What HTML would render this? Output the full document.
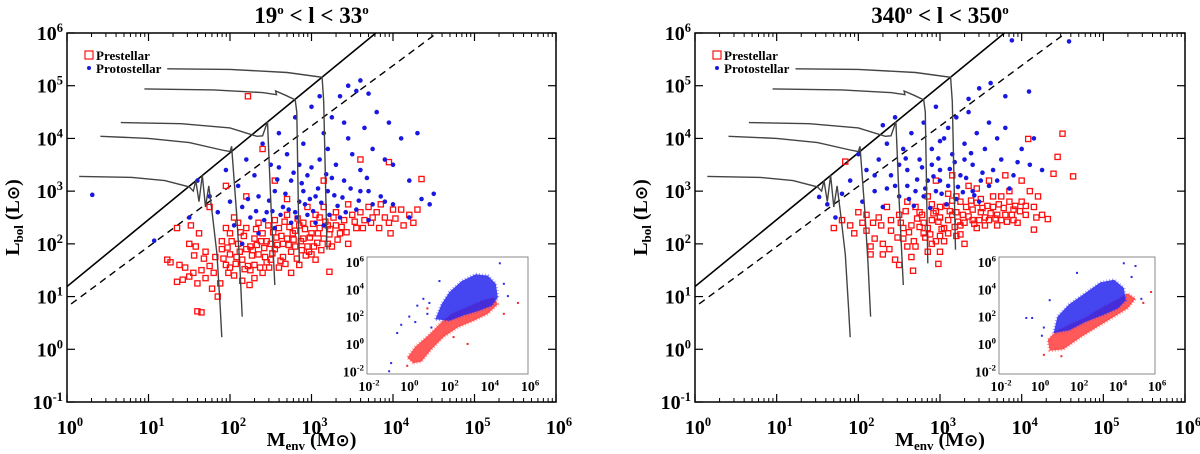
<!DOCTYPE html>
<html><head><meta charset="utf-8"><style>
html,body{margin:0;padding:0;background:#fff;}
svg{display:block;font-family:"Liberation Serif",serif;}
</style></head><body>
<svg id="chart" width="1200" height="454" viewBox="0 0 1200 454" xmlns="http://www.w3.org/2000/svg"></svg>
<script>
// ---- data (log10 Menv, log10 Lbol) ----
const xTickExps=[0,1,2,3,4,5,6];
const yTickExps=[-1,0,1,2,3,4,5,6];
const insetXTickExps=[-2,0,2,4,6];
const insetYTickExps=[-2,0,2,4,6];
const solidLine=[[0,1.19],[3.79,6]];
const dashedLine=[[0.05,0.86],[4.54,6]];
const track1=[[0.15,3.28],[0.8,3.26],[1.2,3.2],[1.5,3.08],[1.55,3.0],[1.58,3.2],[1.62,2.8],[1.66,3.3],[1.7,2.7],[1.74,3.1],[1.78,2.6],[1.84,1.8],[1.88,0.8],[1.9,0.23]];
const track2=[[0.41,4.04],[1.0,4.0],[1.5,3.92],[1.9,3.78],[2.0,3.75],[2.02,3.85],[2.08,2.6],[2.12,1.6],[2.15,0.62]];
const track3=[[0.66,4.3],[1.4,4.28],[2.0,4.2],[2.33,4.04],[2.4,4.05],[2.46,4.32],[2.5,2.8],[2.55,1.22]];
const track4=[[0.95,4.94],[1.8,4.92],[2.4,4.87],[2.57,4.83],[2.56,4.9],[2.68,4.82],[2.8,4.73],[2.82,4.5],[2.85,1.63]];
const track5=[[1.23,5.32],[2.0,5.31],[2.7,5.25],[3.13,5.16],[3.15,4.7],[3.19,1.89]];
const leftRed=[[1.23,1.7],[1.27,1.65],[1.35,1.28],[1.42,1.32],[1.5,1.38],[1.55,1.45],[1.45,1.55],[1.38,1.6],[1.6,1.25],[1.65,1.5],[1.7,1.35],[1.75,1.58],[1.8,1.45],[1.65,0.7],[1.85,1.0],[1.82,1.75],[1.7,1.85],[1.58,1.95],[1.52,2.35],[1.5,2.0],[1.62,2.2],[1.35,2.3],[1.9,1.9],[1.95,1.6],[2.0,1.8],[2.05,1.4],[2.1,2.0],[2.15,1.7],[2.2,1.9],[2.25,1.5],[2.3,2.1],[2.35,1.8],[2.4,2.2],[2.45,1.65],[2.5,2.0],[2.55,1.9],[2.6,2.3],[2.65,1.75],[2.7,2.1],[2.75,1.85],[2.8,2.25],[2.85,1.6],[2.9,2.4],[2.95,1.95],[3.0,2.2],[3.05,1.7],[3.1,2.5],[3.15,2.1],[3.2,2.35],[3.25,1.95],[3.3,2.6],[3.35,2.2],[3.4,2.45],[3.45,2.0],[3.5,2.55],[3.55,2.3],[3.6,2.6],[3.65,2.45],[3.7,2.7],[3.75,2.5],[3.8,2.6],[3.9,2.5],[3.95,2.4],[3.97,2.2],[4.1,2.65],[4.2,2.55],[4.35,3.23],[3.95,3.55],[3.6,3.6],[3.15,3.2],[2.4,3.8],[1.95,3.1],[2.55,3.2],[2.7,2.85],[2.2,2.9],[1.75,2.7],[2.22,4.8],[1.6,0.72],[3.22,1.47],[2.0,2.2],[2.1,2.4],[2.2,2.3],[2.3,1.6],[2.35,2.4],[2.45,2.05],[2.55,2.45],[2.6,1.55],[2.7,2.55],[2.8,1.95],[2.9,2.1],[3.0,1.8],[3.1,2.3],[3.2,2.0],[3.3,2.35],[2.15,1.3],[2.25,1.95],[2.4,1.45],[2.05,2.5],[1.95,2.3],[2.65,2.0],[2.85,2.35],[3.05,2.55],[2.5,1.7],[2.3,1.35],[1.9,2.05],[2.0,1.55],[2.75,1.45],[3.45,2.75],[3.15,2.7],[2.95,2.7],
[1.92,1.72],[1.97,1.93],[2.02,2.05],[2.07,1.62],[2.12,1.85],[2.17,2.15],[2.22,1.58],[2.27,1.78],[2.32,2.28],[2.37,1.55],[2.42,1.92],[2.47,2.35],[2.52,1.82],[2.57,2.12],[2.62,1.68],[2.67,2.42],[2.72,1.98],[2.77,2.2],[2.82,1.72],[2.87,2.05],[2.92,2.28],[2.97,1.85],[3.02,2.38],[3.07,2.02],[3.12,1.88],[3.17,2.42],[3.22,2.18],[3.27,2.5],[3.32,2.08],[3.37,2.32],[1.98,1.45],[2.08,1.75],[2.18,1.52],[2.28,1.88],[2.38,2.05],[2.48,1.55],[2.58,1.98],[2.68,1.62],[2.78,2.08],[2.88,1.88],[2.98,2.12],[3.08,2.2],[2.13,2.22],[2.33,1.98],[2.53,2.22],[2.73,2.32],[2.93,1.78],[2.43,1.75],[2.63,2.15],[2.83,2.48],[3.03,1.95],[3.23,2.28],[3.43,2.22],[3.53,2.42],[3.63,2.3],[3.73,2.4],[3.83,2.3],[4.03,2.48],[4.13,2.35],[4.25,2.4],[1.88,1.25],[1.78,1.15],[2.24,1.22],[1.68,1.72],[1.56,1.78],[3.85,2.75],[4.3,2.65],[4.0,2.65]];
const leftBlue=[[0.31,2.93],[1.07,2.06],[1.5,2.5],[1.6,3.2],[1.75,2.9],[1.85,2.6],[1.95,3.4],[2.0,2.8],[2.1,3.1],[2.15,2.7],[2.2,3.6],[2.25,2.5],[2.3,3.3],[2.35,2.9],[2.4,3.9],[2.45,2.6],[2.5,3.5],[2.55,3.0],[2.6,4.1],[2.65,2.7],[2.7,3.7],[2.75,3.2],[2.8,4.4],[2.85,2.8],[2.9,3.9],[2.95,3.3],[3.0,4.6],[3.05,2.9],[3.1,3.6],[3.15,4.1],[3.2,3.0],[3.25,4.4],[3.3,3.5],[3.35,4.8],[3.4,3.2],[3.45,4.0],[3.5,3.7],[3.55,4.9],[3.6,3.4],[3.65,4.2],[3.7,3.0],[3.75,3.8],[3.8,4.5],[3.85,2.9],[3.9,3.6],[3.95,4.3],[4.0,3.5],[4.1,4.0],[4.2,3.2],[4.3,4.1],[4.35,2.85],[4.2,2.5],[4.0,2.75],[4.5,2.95],[4.45,2.75],[3.75,2.75],[3.55,2.65],[3.35,2.5],[3.15,2.35],[2.95,2.55],[2.75,2.4],[2.55,2.3],[2.35,2.2],[2.15,2.0],[3.7,2.45],[3.9,2.8],[2.05,2.35],[2.6,3.45],[2.9,3.0],[3.2,3.8],[3.4,4.3],[3.0,3.45],[3.6,3.0],[2.85,3.5],[3.25,3.25],[3.1,4.8],[3.6,5.1],[3.45,5.0],[3.7,4.85],
[2.52,2.62],[2.62,2.55],[2.72,2.65],[2.82,2.5],[2.92,2.75],[3.02,2.62],[3.12,2.78],[3.22,2.55],[3.32,2.72],[3.42,2.6],[2.48,2.82],[2.68,2.95],[2.88,3.15],[3.08,3.05],[3.28,2.92],[2.58,3.22],[2.78,3.35],[2.98,2.85],[3.18,3.32],[3.38,2.88],[2.42,2.45],[3.48,3.05],[3.58,2.82],[2.32,2.62],[2.22,2.85],[3.68,3.25],[3.05,2.4],[2.8,2.6]];
const rightRed=[[1.84,3.56],[1.7,2.3],[1.8,2.45],[1.9,2.35],[2.0,2.6],[2.05,2.4],[2.1,2.25],[2.15,1.95],[2.15,1.8],[2.2,2.1],[2.25,2.5],[2.3,2.0],[2.35,2.7],[2.4,2.25],[2.45,1.7],[2.5,2.55],[2.55,2.1],[2.6,2.8],[2.65,2.35],[2.7,1.95],[2.75,2.6],[2.8,2.2],[2.85,2.9],[2.9,2.45],[2.95,2.05],[3.0,2.7],[3.05,2.3],[3.1,2.95],[3.15,2.55],[3.2,2.15],[3.25,2.8],[3.3,2.4],[3.35,3.1],[3.4,2.65],[3.45,2.3],[3.5,2.85],[3.55,2.5],[3.6,3.2],[3.65,2.7],[3.7,2.35],[3.75,2.9],[3.8,2.55],[3.85,3.0],[3.9,2.65],[3.95,2.4],[4.0,2.8],[4.05,2.55],[4.1,3.0],[4.15,2.7],[4.2,2.9],[4.25,2.55],[4.08,3.99],[4.5,4.09],[4.44,3.65],[4.39,3.33],[4.63,3.28],[4.32,2.47],[4.15,2.27],[2.67,1.49],[2.98,1.62],[2.5,1.6],[2.3,1.8],[2.6,1.95],[2.9,2.0],[3.1,2.2],[3.3,2.0],[2.8,2.4],[3.0,2.5],[3.2,2.6],[3.4,2.45],[2.7,2.7],[2.9,2.75],[3.1,2.45],[3.0,2.15],[2.85,2.3],[3.25,2.35],[2.4,2.45],[2.55,2.3],[3.5,2.6],[3.7,2.55],[3.9,2.45],[4.0,3.2],[3.8,3.3],[3.6,2.45],[2.95,3.2],[3.15,3.3],[3.45,3.05],[1.95,2.2],[2.1,2.55],[3.0,1.85],
[2.62,2.22],[2.72,2.48],[2.82,2.12],[2.92,2.58],[3.02,2.28],[3.12,2.62],[3.22,2.42],[3.32,2.7],[3.42,2.38],[3.52,2.68],[3.62,2.58],[3.72,2.75],[3.82,2.42],[3.92,2.72],[2.68,2.05],[2.78,2.55],[2.88,2.18],[2.98,2.42],[3.08,2.72],[3.18,2.32],[3.28,2.55],[3.38,2.82],[3.48,2.45],[3.58,2.72],[3.68,2.48],[3.78,2.68],[3.88,2.55],[3.98,2.62],[2.58,2.62],[2.48,2.12],[2.38,1.9],[2.28,2.35],[2.18,2.4],[3.05,2.05],[3.15,2.82],[3.35,2.52],[3.55,2.35],[3.75,2.45],[2.75,2.32],[2.95,2.62],[3.25,2.18],[3.45,2.78],[3.65,2.9],[3.85,2.8],[4.05,2.72],[4.18,2.5],[2.85,1.85],[2.65,1.75],[3.2,2.9],[2.52,2.4]];
const rightBlue=[[1.52,2.89],[1.62,2.75],[1.72,2.5],[1.8,2.95],[1.9,3.2],[2.0,3.7],[2.05,2.8],[2.1,3.4],[2.2,3.0],[2.25,3.6],[2.3,2.7],[2.35,3.9],[2.4,3.3],[2.45,4.4],[2.5,2.9],[2.55,3.8],[2.6,3.4],[2.65,4.1],[2.7,3.0],[2.75,3.6],[2.8,4.3],[2.85,3.2],[2.9,3.8],[2.95,4.6],[3.0,3.4],[3.05,4.0],[3.1,3.1],[3.15,3.7],[3.2,4.4],[3.25,3.3],[3.3,3.9],[3.35,4.5],[3.4,3.5],[3.45,4.1],[3.5,3.2],[3.55,3.8],[3.6,4.3],[3.65,3.4],[3.7,4.0],[3.75,3.6],[3.8,4.2],[3.9,3.3],[4.0,3.8],[4.1,3.5],[4.15,4.0],[4.25,3.4],[3.88,5.86],[4.58,5.84],[4.09,4.89],[3.62,5.05],[3.48,4.95],[3.8,4.8],[3.35,4.75],[2.3,4.25],[3.1,4.2],[2.95,3.0],[3.2,2.85],[2.6,3.1],[2.8,2.9],[3.4,3.0],[2.9,3.5],[3.0,3.95],[2.5,3.5],[2.2,3.3],[3.6,3.1],[3.3,3.6],
[2.62,2.85],[2.72,3.22],[2.82,3.05],[2.92,3.28],[3.02,2.95],[3.12,3.42],[3.22,3.08],[3.32,3.25],[3.42,2.92],[3.52,3.35],[2.68,2.72],[2.88,2.68],[3.08,2.75],[3.28,2.98],[3.48,2.8],[2.78,3.45],[2.98,3.62],[3.18,3.55],[3.38,3.72],[2.58,3.62],[2.45,3.1],[3.7,3.2],[3.85,3.05],[2.35,3.05],[3.95,3.55],[3.0,3.2]];
const leftInsetRedArea=[[0.3,-1.4],[0.0,-1.0],[0.4,-0.2],[1.1,0.7],[1.7,1.6],[2.2,2.2],[3.0,2.7],[3.8,3.2],[4.3,3.4],[4.5,2.9],[4.0,2.2],[3.3,1.7],[2.5,1.2],[1.8,0.5],[1.2,-0.4],[0.7,-1.3]];
const leftInsetBlueArea=[[1.4,1.8],[1.7,2.9],[2.1,3.8],[2.7,4.6],[3.4,5.1],[4.0,5.0],[4.4,4.4],[4.5,3.4],[4.2,2.8],[3.5,2.4],[2.8,2.1],[2.1,1.7]];
const leftInsetBlue=[[-0.5,0.8],[-0.8,-1.4],[-0.3,1.4],[0.5,2.8],[1.0,2.2],[0.8,3.3],[4.6,5.9],[5.0,3.5],[1.2,1.2],[-0.9,-2.0],[1.6,4.6],[0.1,2.0],[0.4,1.6],[1.1,3.0],[4.8,4.4]];
const leftInsetRed=[[4.8,2.2],[2.3,0.5],[5.5,3.0],[0.0,-1.6],[1.0,2.6],[3.0,0.0]];
const rightInsetRedArea=[[0.6,-0.5],[0.5,0.3],[0.9,0.9],[1.6,1.4],[2.4,1.9],[3.2,2.6],[4.0,3.2],[4.6,3.7],[5.0,3.3],[4.6,2.6],[3.8,1.9],[3.0,1.2],[2.2,0.5],[1.3,-0.4]];
const rightInsetBlueArea=[[0.8,0.8],[1.0,2.0],[1.6,2.9],[2.4,3.7],[3.2,4.5],[3.9,4.7],[4.4,4.1],[4.5,3.2],[4.1,2.6],[3.3,2.1],[2.4,1.6],[1.6,1.0]];
const rightInsetBlue=[[-0.6,1.9],[-0.3,1.9],[0.6,3.2],[2.0,5.2],[4.4,5.9],[5.0,5.7],[5.3,3.3],[0.3,1.2],[0.2,0.6],[4.8,4.9]];
const rightInsetRed=[[5.8,3.8],[0.3,-0.8],[5.4,3.0],[1.2,-0.9]];

const NS="http://www.w3.org/2000/svg";
const svg=document.getElementById('chart');
function el(tag,attrs,parent){const e=document.createElementNS(NS,tag);for(const k in attrs)e.setAttribute(k,attrs[k]);(parent||svg).appendChild(e);return e;}
function supLabel(parent,x,y,base,exp,size,anchor){
  const t=el('text',{x:x,y:y,'font-size':size,'font-weight':'bold','text-anchor':anchor},parent);
  
  
  t.appendChild(document.createTextNode(base));
  const s=el('tspan',{dy:-size*0.4,'font-size':size*0.62},t);s.textContent=exp;return t;
}
function drawPanel(opt){
  const g=el('g',{});
  
  
  const X0=opt.x0,X1=opt.x1,Y0=opt.y0,Y1=opt.y1;
  const sx=v=>X0+(v-0)/6*(X1-X0);
  const sy=v=>Y1-(v+1)/7*(Y1-Y0);
  const cp=el('clipPath',{id:opt.clip},g);el('rect',{x:X0,y:Y0,width:X1-X0,height:Y1-Y0},cp);
  const cg=el('g',{'clip-path':'url(#'+opt.clip+')'},g);
  const sl=el('line',{x1:sx(solidLine[0][0]),y1:sy(solidLine[0][1]),x2:sx(solidLine[1][0]),y2:sy(solidLine[1][1]),stroke:'#000','stroke-width':1.6},cg);
  
  const dl=el('line',{x1:sx(dashedLine[0][0]),y1:sy(dashedLine[0][1]),x2:sx(dashedLine[1][0]),y2:sy(dashedLine[1][1]),stroke:'#000','stroke-width':1.4,'stroke-dasharray':'7,5'},cg);
  
  opt.red.forEach(q=>{const r=el('rect',{x:sx(q[0])-2.6,y:sy(q[1])-2.6,width:5.2,height:5.2,fill:'none',stroke:'#ff1010','stroke-width':1.3},cg);
    });
  opt.blue.forEach(q=>{const c=el('circle',{cx:sx(q[0]),cy:sy(q[1]),r:2.3,fill:'#1818e0'},cg);
    });
  [track1,track2,track3,track4,track5].forEach((tr,i)=>{
    const p=el('path',{d:'M'+tr.map(q=>sx(q[0]).toFixed(1)+','+sy(q[1]).toFixed(1)).join(' L'),fill:'none',stroke:'#444','stroke-width':1.4},cg);
    
  });
  const fr=el('rect',{x:X0,y:Y0,width:X1-X0,height:Y1-Y0,fill:'none',stroke:'#000','stroke-width':1.5},g);
  
  xTickExps.forEach(e=>{
    const x=sx(e);
    el('line',{x1:x,y1:Y1,x2:x,y2:Y1-8,stroke:'#000','stroke-width':1.2},g);
    el('line',{x1:x,y1:Y0,x2:x,y2:Y0+8,stroke:'#000','stroke-width':1.2},g);
    if(e<6){for(let m=2;m<10;m++){const xm=sx(e+Math.log10(m));
      el('line',{x1:xm,y1:Y1,x2:xm,y2:Y1-4,stroke:'#000','stroke-width':1},g);
      el('line',{x1:xm,y1:Y0,x2:xm,y2:Y0+4,stroke:'#000','stroke-width':1},g);}}
    supLabel(g,x+3,Y1+32,'10',String(e),20,'middle');
  });
  yTickExps.forEach(e=>{
    const y=sy(e);
    el('line',{x1:X0,y1:y,x2:X0+8,y2:y,stroke:'#000','stroke-width':1.2},g);
    el('line',{x1:X1,y1:y,x2:X1-8,y2:y,stroke:'#000','stroke-width':1.2},g);
    supLabel(g,X0-4,y+7,'10',String(e),20,'end');
  });
  const tt=el('text',{x:(X0+X1)/2,y:23,'font-size':23,'font-weight':'bold','text-anchor':'middle'},g);
  
  tt.innerHTML=opt.t1+'<tspan dy="-9" font-size="13">o</tspan><tspan dy="9"> &lt; l &lt; '+opt.t2+'</tspan><tspan dy="-9" font-size="13">o</tspan>';
  const xt=el('text',{x:(X0+X1)/2,y:446,'font-size':20,'font-weight':'bold','text-anchor':'middle'},g);
  
  xt.innerHTML='M<tspan dy="4" font-size="13">env</tspan><tspan dy="-4"> (M</tspan><tspan font-family="DejaVu Sans" font-size="17">⊙</tspan>)';
  const yt=el('text',{x:0,y:0,'font-size':20,'font-weight':'bold','text-anchor':'middle',transform:'translate('+(X0-48)+','+((Y0+Y1)/2)+') rotate(-90)'},g);
  
  yt.innerHTML='L<tspan dy="4" font-size="13">bol</tspan><tspan dy="-4"> (L</tspan><tspan font-family="DejaVu Sans" font-size="17">⊙</tspan>)';
  const lg=el('g',{},g);
  el('rect',{x:X0+18,y:51,width:8,height:8,fill:'none',stroke:'#ff1010','stroke-width':1.2},lg);
  const l1=el('text',{x:X0+29,y:60,'font-size':13,'font-weight':'bold'},lg);l1.textContent='Prestellar';
  
  el('circle',{cx:X0+22,cy:68,r:2,fill:'#1818e0'},lg);
  const l2=el('text',{x:X0+29,y:73,'font-size':13,'font-weight':'bold'},lg);l2.textContent='Protostellar';
  
  // inset
  const ig=el('g',{},g);
  const ix0=opt.ix0,ix1=opt.ix1,iy0=257,iy1=374;
  el('rect',{x:ix0,y:iy0,width:ix1-ix0,height:iy1-iy0,fill:'#fff'},ig);
  const isx=v=>ix0+(v+2)/8*(ix1-ix0);
  const isy=v=>iy1-(v+2.2)/8.56*(iy1-iy0);
  const pts=a=>a.map(q=>isx(q[0]).toFixed(1)+','+isy(q[1]).toFixed(1)).join(' ');
  const ra=el('polygon',{points:pts(opt.iRedA),fill:'#f22','fill-opacity':0.75,stroke:'#f33','stroke-width':3,'stroke-opacity':0.5,'stroke-dasharray':'1,2','stroke-linejoin':'round'},ig);
  
  const ba=el('polygon',{points:pts(opt.iBlueA),fill:'#2626ee','fill-opacity':0.85,stroke:'#33f','stroke-width':3,'stroke-opacity':0.5,'stroke-dasharray':'1,2','stroke-linejoin':'round'},ig);
  
  opt.iBlue.forEach(q=>{const c=el('rect',{x:isx(q[0])-1,y:isy(q[1])-1,width:2,height:2,fill:'#2a2ae6'},ig);
    });
  opt.iRed.forEach(q=>{const c=el('rect',{x:isx(q[0])-1,y:isy(q[1])-1,width:2,height:2,fill:'#f0282a'},ig);
    });
  el('rect',{x:ix0,y:iy0,width:ix1-ix0,height:iy1-iy0,fill:'none',stroke:'#888','stroke-width':1},ig);
  insetXTickExps.forEach(e=>{supLabel(ig,isx(e)+2,iy1+17,'10',String(e),14,'middle');});
  insetYTickExps.forEach(e=>{supLabel(ig,ix0-3,isy(e)+5,'10',String(e),14,'end');});
}
drawPanel({name:'left-panel',clip:'clipL',x0:67,x1:556,y0:33,y1:402,t1:'19',t2:'33',red:leftRed,blue:leftBlue,ix0:367,ix1:528,iRedA:leftInsetRedArea,iBlueA:leftInsetBlueArea,iBlue:leftInsetBlue,iRed:leftInsetRed});
drawPanel({name:'right-panel',clip:'clipR',x0:695,x1:1185,y0:33,y1:402,t1:'340',t2:'350',red:rightRed,blue:rightBlue,ix0:999,ix1:1155,iRedA:rightInsetRedArea,iBlueA:rightInsetBlueArea,iBlue:rightInsetBlue,iRed:rightInsetRed});
</script>
</body></html>
